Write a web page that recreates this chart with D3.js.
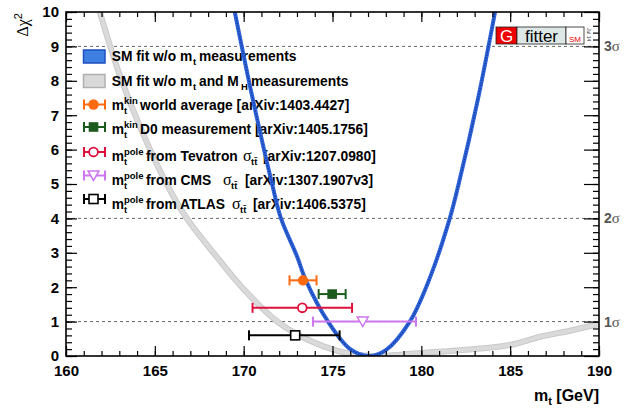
<!DOCTYPE html>
<html>
<head>
<meta charset="utf-8">
<script src="https://cdn.jsdelivr.net/npm/d3@7/dist/d3.min.js"></script>
<style>
  body { margin: 0; background: #fff; }
  text { font-family: "Liberation Sans", Arial, sans-serif; }
</style>
</head>
<body>
<div id="chart"></div>
<script>
// ---- data ----
// SM fit without mt measurements (blue band)
var blueMass = [169.5, 170.5, 171.6, 172.1, 173.0, 173.5, 174.75, 176.0, 177.05, 178.0, 179.35, 180.5, 181.6, 182.1, 183.2, 184.15];
var blueChi2 = [10.0, 7.5, 5.0, 4.0, 2.9, 2.2, 1.0, 0.2, 0.0, 0.17, 1.0, 2.3, 4.0, 5.0, 7.5, 10.0];

// SM fit without mt and MH measurements (grey band)
var greyMass = [161.9, 163.0, 164.3, 165.7, 166.8, 168.3, 169.9, 171.9, 173.5, 175.5, 177.3, 180.0, 182.5, 185.0, 186.7, 188.5, 190.0];
var greyChi2 = [10.0, 8.2, 6.5, 4.97, 4.0, 3.0, 2.0, 1.0, 0.5, 0.12, 0.0, 0.09, 0.18, 0.32, 0.56, 0.75, 0.93];

// direct measurements
var measMass  = [173.34, 174.98, 173.3, 176.7, 172.9];
var measErrLo = [0.76, 0.76, 2.8, 2.8, 2.6];
var measErrHi = [0.76, 0.76, 2.8, 3.0, 2.5];
var measChi2  = [2.2, 1.8, 1.4, 1.0, 0.6];
var measColor = ["#ff6a10", "#1d5a1d", "#e0103c", "#cc77ee", "#000000"];
var measShape = ["circle", "square", "circleOpen", "triangleOpen", "squareOpen"];

// axis ticks and sigma labels
var xTicks = [160, 165, 170, 175, 180, 185, 190];
var yTicks = [0, 1, 2, 3, 4, 5, 6, 7, 8, 9, 10];
var sigmaLevels = [1, 4, 9];
var sigmaNames = ["1", "2", "3"];

// ---- layout ----
var W = 625, H = 409;
var L = 66, R = 599, T = 12, B = 356;

var svg = d3.select("#chart").append("svg")
    .attr("width", W).attr("height", H);

var x = d3.scaleLinear().domain([160, 190]).range([L, R]);
var y = d3.scaleLinear().domain([0, 10]).range([B, T]);

svg.append("clipPath").attr("id", "plotclip")
  .append("rect").attr("x", L).attr("y", T).attr("width", R - L).attr("height", B - T);

// dashed sigma lines
svg.selectAll(".sig").data(sigmaLevels).enter().append("line")
    .attr("x1", L).attr("x2", R)
    .attr("y1", function (d) { return y(d); }).attr("y2", function (d) { return y(d); })
    .attr("stroke", "#555").attr("stroke-width", 0.9).attr("stroke-dasharray", "3,3");

// sigma labels on the right
svg.selectAll(".siglab").data(sigmaLevels).enter().append("text")
    .attr("x", 604).attr("y", function (d) { return y(d) + 5; })
    .attr("fill", "#555").style("font-size", "14px").style("font-weight", "bold")
    .each(function (d, i) {
      var t = d3.select(this);
      t.append("tspan").text(sigmaNames[i]);
      t.append("tspan").text("σ").style("font-family", "Liberation Serif").style("font-weight", "normal").style("font-size", "15px");
    });

// ---- curves ----
var line = d3.line()
    .x(function (d) { return x(d[0]); })
    .y(function (d) { return y(d[1]); })
    .curve(d3.curveCatmullRom);

var greyG = svg.append("g").attr("clip-path", "url(#plotclip)");
greyG.append("path").attr("d", line(d3.zip(greyMass, greyChi2)))
    .attr("fill", "none").attr("stroke", "#c9c9c9").attr("stroke-width", 6);
greyG.append("path").attr("d", line(d3.zip(greyMass, greyChi2)))
    .attr("fill", "none").attr("stroke", "#dadada").attr("stroke-width", 4);

// ---- legend ----
var legY = [61, 86, 110, 134.3, 160.5, 185, 209];
var legMarkY = [56.5, 81, 104.5, 127, 152, 175.5, 199];
var lg = svg.append("g");

// boxes
lg.append("rect").attr("x", 83.5).attr("y", 50).attr("width", 21.5).attr("height", 13)
    .attr("fill", "#3f7fe2").attr("stroke", "#1d4fc0").attr("stroke-width", 1.5);
lg.append("rect").attr("x", 83.5).attr("y", 74.5).attr("width", 21.5).attr("height", 13)
    .attr("fill", "#d9d9d9").attr("stroke", "#b0b0b0").attr("stroke-width", 1.5);

function legText(yb, parts) {
  var t = lg.append("text").attr("y", yb).style("font-size", "13.8px").style("font-weight", "bold");
  parts.forEach(function (p) {
    var s = t.append("tspan").attr("x", p.x).text(p.t);
    if (p.sub) s.attr("y", yb + 4).style("font-size", "9.5px");
    if (p.sup) s.attr("y", yb - 6).style("font-size", "9.5px");
    if (p.sym) s.attr("y", yb).style("font-family", "Liberation Serif").style("font-weight", "normal").style("font-size", "16px");
    if (p.base) s.attr("y", yb);
  });
}

legText(legY[0], [{x: 111.7, t: "SM fit w/o m"}, {x: 193, t: "t", sub: 1}, {x: 199, t: "measurements", base: 1}]);
legText(legY[1], [{x: 111.7, t: "SM fit w/o m"}, {x: 193, t: "t", sub: 1}, {x: 199, t: "and M", base: 1}, {x: 241, t: "H", sub: 1}, {x: 251, t: "measurements", base: 1}]);
legText(legY[2], [{x: 111.7, t: "m"}, {x: 124, t: "kin", sup: 1}, {x: 124, t: "t", sub: 1}, {x: 140, t: "world average [arXiv:1403.4427]", base: 1}]);
legText(legY[3], [{x: 111.7, t: "m"}, {x: 124, t: "kin", sup: 1}, {x: 124, t: "t", sub: 1}, {x: 140, t: "D0 measurement [arXiv:1405.1756]", base: 1}]);
legText(legY[4], [{x: 111.7, t: "m", base: 1}, {x: 124, t: "pole", sup: 1}, {x: 124, t: "t", sub: 1}, {x: 146, t: "from Tevatron", base: 1}, {x: 243, t: "σ", sym: 1}, {x: 251, t: "tt̄", sub: 1}, {x: 263, t: "[arXiv:1207.0980]", base: 1}]);
legText(legY[5], [{x: 111.7, t: "m", base: 1}, {x: 124, t: "pole", sup: 1}, {x: 124, t: "t", sub: 1}, {x: 146, t: "from CMS", base: 1}, {x: 223, t: "σ", sym: 1}, {x: 231, t: "tt̄", sub: 1}, {x: 245, t: "[arXiv:1307.1907v3]", base: 1}]);
legText(legY[6], [{x: 111.7, t: "m", base: 1}, {x: 124, t: "pole", sup: 1}, {x: 124, t: "t", sub: 1}, {x: 146, t: "from ATLAS", base: 1}, {x: 232, t: "σ", sym: 1}, {x: 240, t: "tt̄", sub: 1}, {x: 253, t: "[arXiv:1406.5375]", base: 1}]);

// marker drawing helper
function drawMarker(g, shape, cx, cy, col) {
  if (shape === "circle") {
    g.append("circle").attr("cx", cx).attr("cy", cy).attr("r", 5.2).attr("fill", col);
  } else if (shape === "square") {
    g.append("rect").attr("x", cx - 4.8).attr("y", cy - 4.8).attr("width", 9.6).attr("height", 9.6).attr("fill", col);
  } else if (shape === "circleOpen") {
    g.append("circle").attr("cx", cx).attr("cy", cy).attr("r", 4.4).attr("fill", "#fff").attr("stroke", col).attr("stroke-width", 1.8);
  } else if (shape === "triangleOpen") {
    g.append("path").attr("d", "M" + (cx - 5.5) + "," + (cy - 4.5) + "L" + (cx + 5.5) + "," + (cy - 4.5) + "L" + cx + "," + (cy + 5) + "Z")
      .attr("fill", "#fff").attr("stroke", col).attr("stroke-width", 1.5);
  } else {
    g.append("rect").attr("x", cx - 4.5).attr("y", cy - 4.5).attr("width", 9).attr("height", 9)
      .attr("fill", "#fff").attr("stroke", col).attr("stroke-width", 1.6);
  }
}

function drawErr(g, x1, x2, cy, col) {
  g.append("line").attr("x1", x1).attr("x2", x2).attr("y1", cy).attr("y2", cy).attr("stroke", col).attr("stroke-width", 2);
  [x1, x2].forEach(function (xx) {
    g.append("line").attr("x1", xx).attr("x2", xx).attr("y1", cy - 5).attr("y2", cy + 5).attr("stroke", col).attr("stroke-width", 2);
  });
}

measShape.forEach(function (s, i) {
  drawErr(lg, 84, 105, legMarkY[i + 2], measColor[i]);
  drawMarker(lg, s, 93.5, legMarkY[i + 2], measColor[i]);
});

// blue band above legend
var blueG = svg.append("g").attr("clip-path", "url(#plotclip)");
blueG.append("path").attr("d", line(d3.zip(blueMass, blueChi2)))
    .attr("fill", "none").attr("stroke", "#2d63d8").attr("stroke-width", 4);
blueG.append("path").attr("d", line(d3.zip(blueMass, blueChi2)))
    .attr("fill", "none").attr("stroke", "#16379a").attr("stroke-width", 1.3).attr("stroke-dasharray", "1.3,1.5");

// ---- measurements ----
var pts = svg.append("g");
measMass.forEach(function (m, i) {
  var cy = y(measChi2[i]);
  drawErr(pts, x(m - measErrLo[i]), x(m + measErrHi[i]), cy, measColor[i]);
  drawMarker(pts, measShape[i], x(m), cy, measColor[i]);
});

// ---- axes ----
function styleAxis(g) {
  g.select(".domain").remove();
  g.selectAll(".tick line").attr("stroke", "#000").attr("stroke-width", 1.2);
}

svg.append("g").attr("transform", "translate(0," + B + ")")
    .call(d3.axisBottom(x).ticks(30).tickSize(-5).tickFormat(""))
    .call(styleAxis);
svg.append("g").attr("transform", "translate(0," + B + ")")
    .call(d3.axisBottom(x).tickValues(xTicks).tickSize(-10).tickPadding(9).tickFormat(d3.format("d")))
    .call(styleAxis)
    .selectAll("text").style("font-size", "15px").style("font-weight", "bold").attr("fill", "#000")
    .style("font-family", "Liberation Sans");

svg.append("g").attr("transform", "translate(0," + T + ")")
    .call(d3.axisTop(x).ticks(30).tickSize(-5).tickFormat(""))
    .call(styleAxis);
svg.append("g").attr("transform", "translate(0," + T + ")")
    .call(d3.axisTop(x).tickValues(xTicks).tickSize(-10).tickFormat(""))
    .call(styleAxis);

svg.append("g").attr("transform", "translate(" + L + ",0)")
    .call(d3.axisLeft(y).ticks(50).tickSize(-6).tickFormat(""))
    .call(styleAxis);
svg.append("g").attr("transform", "translate(" + L + ",0)")
    .call(d3.axisLeft(y).tickValues(yTicks).tickSize(-11).tickPadding(7).tickFormat(d3.format("d")))
    .call(styleAxis)
    .selectAll("text").style("font-size", "15px").style("font-weight", "bold").attr("fill", "#000")
    .style("font-family", "Liberation Sans");

svg.append("g").attr("transform", "translate(" + R + ",0)")
    .call(d3.axisRight(y).ticks(50).tickSize(-6).tickFormat(""))
    .call(styleAxis);
svg.append("g").attr("transform", "translate(" + R + ",0)")
    .call(d3.axisRight(y).tickValues(yTicks).tickSize(-15).tickFormat(""))
    .call(styleAxis);

svg.append("rect").attr("x", L).attr("y", T).attr("width", R - L).attr("height", B - T)
    .attr("fill", "none").attr("stroke", "#000").attr("stroke-width", 1.6);

// axis titles
var xt = svg.append("text").attr("x", R).attr("y", 401).attr("text-anchor", "end")
    .style("font-size", "16px").style("font-weight", "bold");
xt.append("tspan").text("m");
xt.append("tspan").text("t").attr("dy", 4).style("font-size", "11px");
xt.append("tspan").text(" [GeV]").attr("dy", -4);

var yt = svg.append("text").attr("transform", "translate(28," + (T + 1) + ") rotate(-90)")
    .attr("text-anchor", "end").style("font-size", "16px");
yt.append("tspan").text("Δχ").style("font-family", "Liberation Serif");
yt.append("tspan").text("2").attr("dy", -6).style("font-size", "11px");

// ---- Gfitter logo ----
var logo = svg.append("g");
logo.append("rect").attr("x", 496).attr("y", 27).attr("width", 21).attr("height", 17).attr("fill", "#ee0000").attr("stroke", "#222").attr("stroke-width", 0.8);
logo.append("rect").attr("x", 517).attr("y", 27).attr("width", 49).attr("height", 17).attr("fill", "#dde8e6").attr("stroke", "#222").attr("stroke-width", 0.8);
logo.append("rect").attr("x", 566).attr("y", 27).attr("width", 18).attr("height", 17).attr("fill", "#ffffff").attr("stroke", "#222").attr("stroke-width", 0.8);
logo.append("text").attr("x", 506.5).attr("y", 41.5).attr("text-anchor", "middle").attr("fill", "#fff").style("font-size", "17px").text("G");
logo.append("text").attr("x", 541.5).attr("y", 41.5).attr("text-anchor", "middle").attr("fill", "#000").style("font-size", "17px").text("fitter");
logo.append("text").attr("x", 575).attr("y", 42).attr("text-anchor", "middle").attr("fill", "#ee0000").style("font-size", "8px").text("SM");
logo.append("text").attr("transform", "translate(587,28) rotate(90)").attr("fill", "#444").style("font-size", "5px").text("Jul 14");
</script>
</body>
</html>
